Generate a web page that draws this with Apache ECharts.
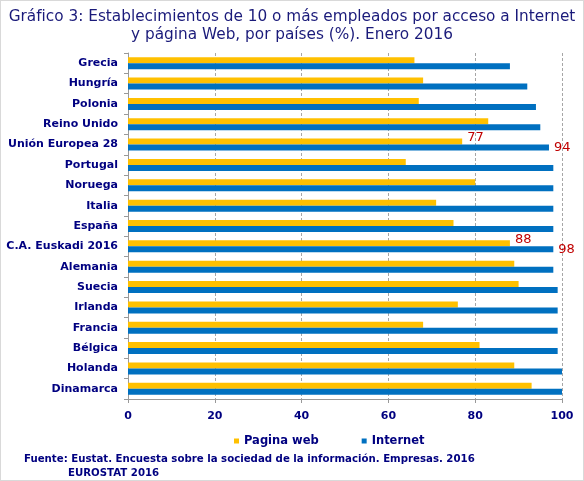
<!DOCTYPE html>
<html lang="es">
  <head>
    <meta charset="UTF-8" />
    <title>Gráfico 3</title>
    <style>
      body { margin: 0; padding: 0; background: #fff; }
      #container { width: 584px; height: 481px; box-sizing: border-box; border: 1px solid #d9d9d9; }
    </style>
  </head>
  <body>
    <div id="container"></div>
    <script src="https://cdn.jsdelivr.net/npm/echarts@6/dist/echarts.min.js"></script>
    <script>
      // países, de arriba abajo
      var paises = [
        "Grecia", "Hungría", "Polonia", "Reino Unido", "Unión Europea 28",
        "Portugal", "Noruega", "Italia", "España", "C.A. Euskadi 2016",
        "Alemania", "Suecia", "Irlanda", "Francia", "Bélgica", "Holanda", "Dinamarca"
      ];
      var paginaWeb = [66, 68, 67, 83, 77, 64, 80, 71, 75, 88, 89, 90, 76, 68, 81, 89, 93];
      var internet = [88, 92, 94, 95, 97, 98, 98, 98, 98, 98, 98, 99, 99, 99, 99, 100, 100];
      var xTicks = [0, 20, 40, 60, 80, 100];
      // etiquetas rojas tal como aparecen en el gráfico
      var notasWeb = { "Unión Europea 28": "77", "C.A. Euskadi 2016": "88" };
      var notasInternet = { "Unión Europea 28": "94", "C.A. Euskadi 2016": "98" };

      var navy = "#000080";
      var font = "'DejaVu Sans', Verdana, sans-serif";

      function conNotas(values, notas, offset) {
        return values.map(function (v, i) {
          var nota = notas[paises[i]];
          if (!nota) return v;
          return {
            value: v,
            label: {
              show: true,
              position: "right",
              offset: offset,
              formatter: nota,
              color: "#c00000",
              fontSize: 13,
              fontFamily: font
            }
          };
        });
      }

      var chart = echarts.init(document.getElementById("container"));
      chart.setOption({
        animation: false,
        title: {
          text: "Gráfico 3: Establecimientos de 10 o más empleados por acceso a Internet\ny página Web, por países (%). Enero 2016",
          left: "center",
          top: 2,
          textStyle: { color: "#1a1a7a", fontSize: 15.3, fontWeight: "normal", fontFamily: font, lineHeight: 18 }
        },
        legend: {
          data: ["Pagina web", "Internet"],
          left: 228,
          top: 429,
          itemWidth: 5,
          itemHeight: 5,
          itemGap: 43,
          icon: "rect",
          textStyle: { color: navy, fontSize: 11.5, fontWeight: "bold", fontFamily: font }
        },
        grid: { left: 127, right: 21, top: 52, bottom: 81, containLabel: false, outerBoundsMode: "none" },
        xAxis: {
          type: "value",
          min: xTicks[0],
          max: xTicks[xTicks.length - 1],
          interval: 20,
          axisLine: { show: true, lineStyle: { color: "#999" } },
          axisTick: { show: true, length: 4, lineStyle: { color: "#999" } },
          splitLine: { show: true, lineStyle: { color: "#a6a6a6", type: [3, 2] } },
          axisLabel: { color: navy, fontSize: 11, fontWeight: "bold", fontFamily: font, margin: 12 }
        },
        yAxis: {
          type: "category",
          data: paises,
          inverse: true,
          axisLine: { show: true, lineStyle: { color: "#999" } },
          axisTick: { show: true, length: 4, lineStyle: { color: "#999" } },
          axisLabel: { color: navy, fontSize: 11, fontWeight: "bold", fontFamily: font, margin: 10 }
        },
        series: [
          {
            name: "Pagina web",
            type: "bar",
            data: conNotas(paginaWeb, notasWeb, [0, -4]),
            barWidth: 6,
            barGap: "0%",
            itemStyle: { color: "#ffc000" }
          },
          {
            name: "Internet",
            type: "bar",
            data: conNotas(internet, notasInternet, [0, 0]),
            barWidth: 6,
            itemStyle: { color: "#0070c0" }
          }
        ],
        graphic: [
          {
            type: "text",
            left: 23,
            top: 453,
            style: { text: "Fuente: Eustat. Encuesta sobre la sociedad de la información. Empresas. 2016", fill: navy, font: "bold 10.2px " + font }
          },
          {
            type: "text",
            left: 67,
            top: 467,
            style: { text: "EUROSTAT 2016", fill: navy, font: "bold 10.2px " + font }
          }
        ]
      });
    </script>
  </body>
</html>
